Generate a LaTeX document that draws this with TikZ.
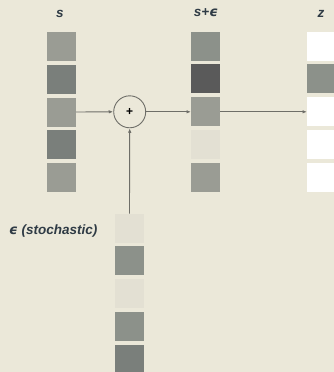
\documentclass[tikz,border=0pt]{standalone}
\usepackage{fontspec}
\setmainfont{Liberation Sans}
\newfontfamily\dvs{DejaVu Sans}
\usetikzlibrary{arrows.meta}
\definecolor{bg}{HTML}{EBE8D9}
\definecolor{cA}{HTML}{9A9C94}
\definecolor{cB}{HTML}{7A7F7B}
\definecolor{cC}{HTML}{8C918A}
\definecolor{cD}{HTML}{5A5A5A}
\definecolor{cE}{HTML}{E3E0D3}
\definecolor{txt}{HTML}{2F3B45}
\definecolor{ln}{HTML}{6E6E68}
\tikzset{
  cell/.style={draw=none,minimum width=29pt,minimum height=29pt,inner sep=0pt,outer sep=0pt},
  lbl/.style={text=txt,font=\fontsize{13.5}{15}\selectfont\bfseries\itshape,inner sep=0pt},
  conn/.style={draw=ln,line width=0.9pt,-{Latex[length=4.5pt,width=3.5pt]}},
}
\newcommand{\eps}{{\dvs\bfseries\itshape ϵ}}
\begin{document}
\begin{tikzpicture}[x=1pt,y=-1pt]
\fill[bg] (0,0) rectangle (334,372);
\useasboundingbox (0,0) rectangle (334,372);
% s column
\node[cell,fill=cA] (s1) at (61.5,46.5) {};
\node[cell,fill=cB] (s2) at (61.5,79.25) {};
\node[cell,fill=cA] (s3) at (61.5,112) {};
\node[cell,fill=cB] (s4) at (61.5,144.75) {};
\node[cell,fill=cA] (s5) at (61.5,177.5) {};
% s+eps column
\node[cell,fill=cC] (p1) at (205.5,46) {};
\node[cell,fill=cD] (p2) at (205.5,78.9) {};
\node[cell,fill=cA] (p3) at (205.5,111.8) {};
\node[cell,fill=cE] (p4) at (205.5,144.7) {};
\node[cell,fill=cA] (p5) at (205.5,177.6) {};
% z column
\node[cell,fill=white] (z1) at (321.5,46) {};
\node[cell,fill=cC] (z2) at (321.5,78.9) {};
\node[cell,fill=white] (z3) at (321.5,111.8) {};
\node[cell,fill=white] (z4) at (321.5,144.7) {};
\node[cell,fill=white] (z5) at (321.5,177.6) {};
% eps column
\node[cell,fill=cE] (e1) at (129.5,228) {};
\node[cell,fill=cC] (e2) at (129.5,260.8) {};
\node[cell,fill=cE] (e3) at (129.5,293.6) {};
\node[cell,fill=cC] (e4) at (129.5,326.4) {};
\node[cell,fill=cB] (e5) at (129.5,359.2) {};
% plus
\node[circle,draw=ln,line width=0.9pt,minimum size=32pt,inner sep=0pt] (plus) at (129.7,111.8) {\fontsize{12}{12}\selectfont\bfseries +};
% labels
\node[lbl] (ls) at (60,14) {s};
\node[lbl] (lp) at (206,13) {s+\eps};
\node[lbl] (lz) at (321,14) {z};
\node[lbl,anchor=west] (le) at (9,231) {\eps\ (stochastic)};
% connectors
\draw[conn] (s3.east) -- (plus.west);
\draw[conn] (plus.east) -- (p3.west);
\draw[conn] (p3.east) -- (z3.west);
\draw[conn] (e1.north) -- (plus.south);
\end{tikzpicture}
\end{document}
